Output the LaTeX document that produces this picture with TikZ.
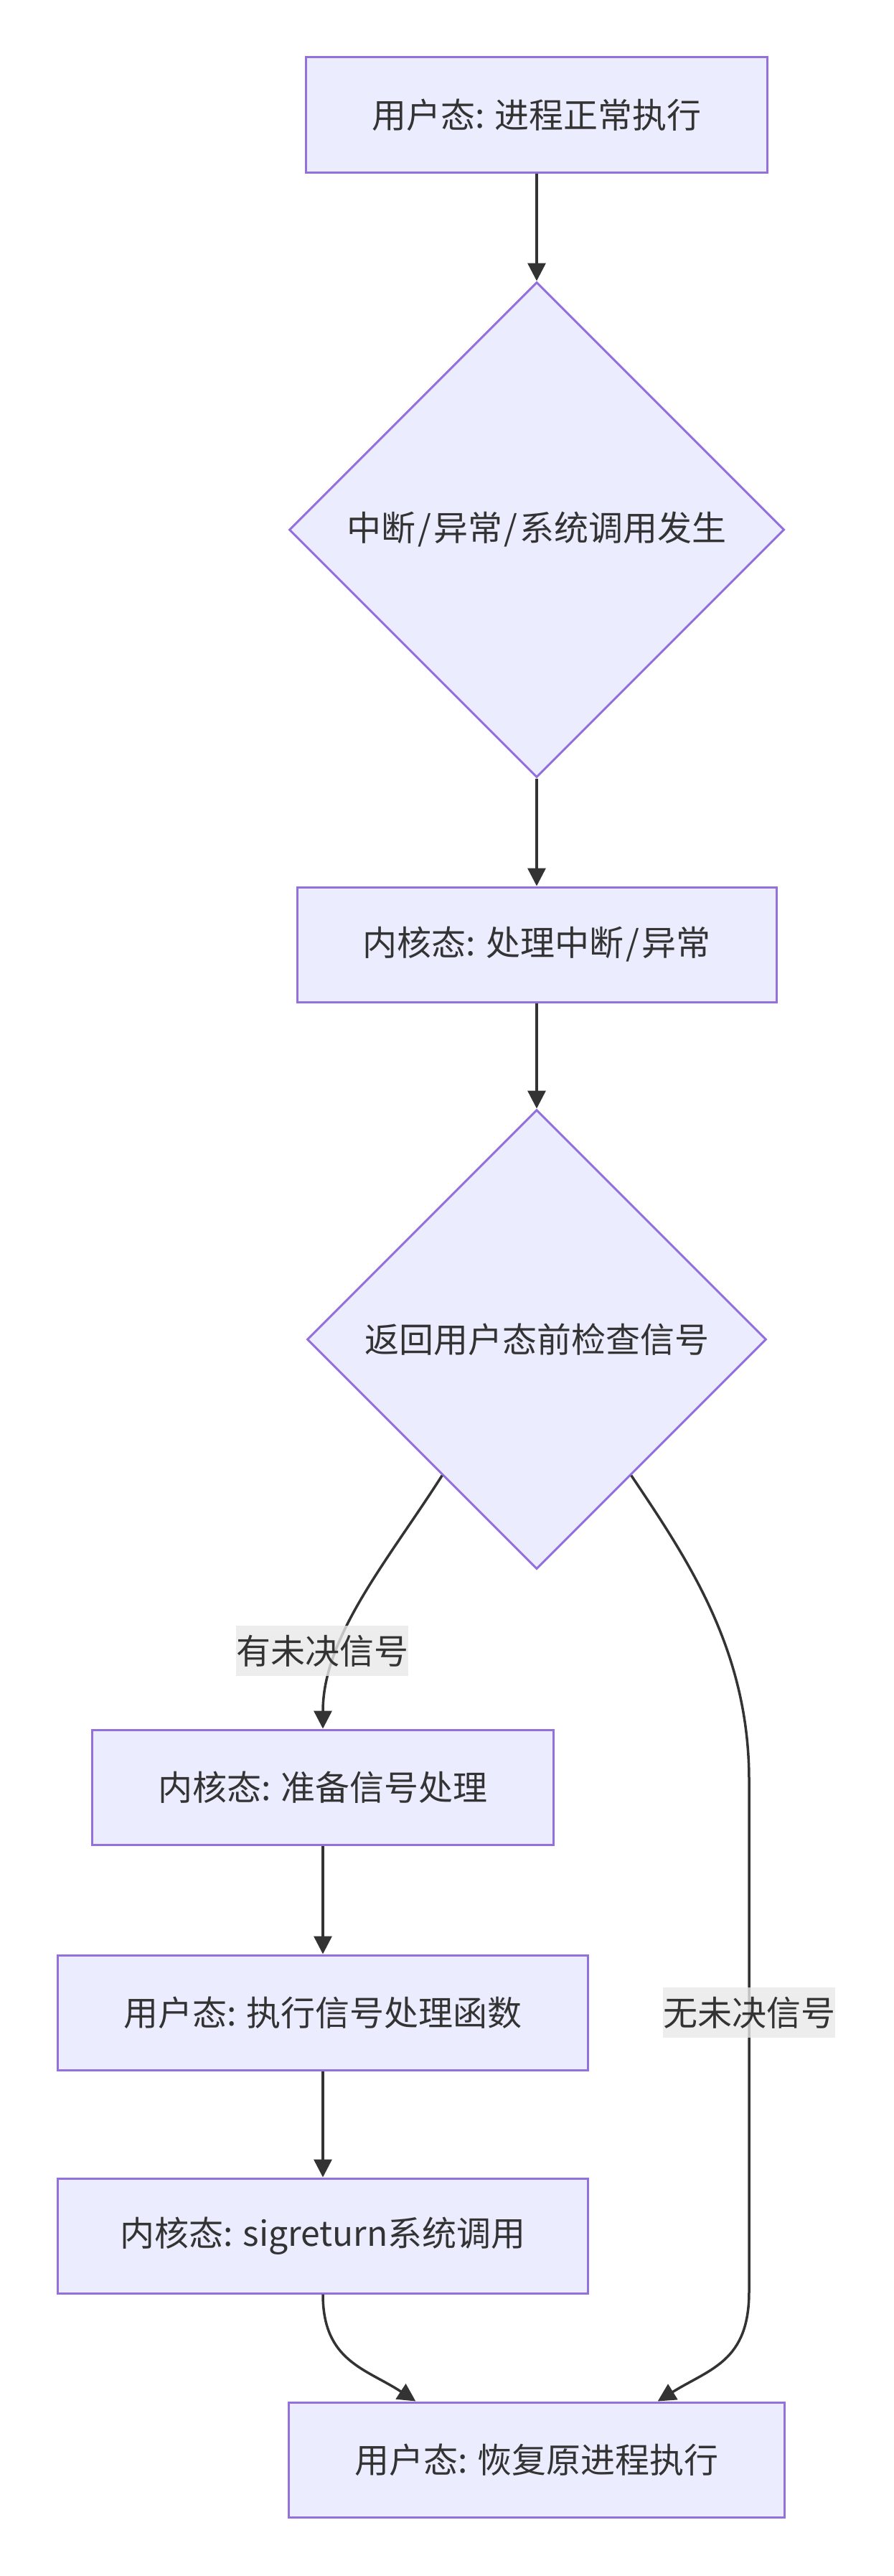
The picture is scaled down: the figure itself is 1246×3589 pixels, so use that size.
\documentclass[tikz,border=0pt]{standalone}
\usepackage{fontspec}
\setmainfont{Noto Sans CJK SC}
\usetikzlibrary{shapes.geometric,arrows.meta,calc}
\definecolor{bg}{HTML}{ECECFF}
\definecolor{bd}{HTML}{9370DB}
\definecolor{tx}{HTML}{333333}
\definecolor{lb}{HTML}{E8E8E8}
\newcommand{\slsh}{\kern3pt/\kern3pt}
\begin{document}
\begin{tikzpicture}[x=1pt,y=-1pt,
  procbox/.style={draw=bd,fill=bg,line width=3pt,inner sep=0pt,minimum height=160pt,text=tx,font=\fontsize{48}{57}\selectfont},
  decbox/.style={diamond,aspect=1,draw=bd,fill=bg,line width=3pt,inner sep=0pt,text=tx,font=\fontsize{48}{57}\selectfont},
  edge/.style={draw=tx,line width=3.5pt,-{Triangle[length=25pt,width=25pt]}},
  elabel/.style={fill=lb,fill opacity=0.8,text opacity=1,text=tx,inner sep=0pt,minimum width=238pt,minimum height=70pt,font=\fontsize{48}{57}\selectfont}]
\useasboundingbox (0,0) rectangle (1246,3589);
\node[procbox,minimum width=643pt] (A) at (748,160) {用户态: 进程正常执行};
\node[decbox,minimum width=690pt,minimum height=690pt] (B) at (748,738) {中断\slsh 异常\slsh 系统调用发生};
\node[procbox,minimum width=668pt] (C) at (748,1316) {内核态: 处理中断\slsh 异常};
\node[decbox,minimum width=640pt,minimum height=640pt] (D) at (748,1866) {返回用户态前检查信号};
\node[procbox,minimum width=643pt] (E) at (450,2490) {内核态: 准备信号处理};
\node[procbox,minimum width=739pt] (F) at (450,2804) {用户态: 执行信号处理函数};
\node[procbox,minimum width=739pt] (G) at (450,3115) {内核态: sigreturn系统调用};
\node[procbox,minimum width=691pt] (H) at (748,3427) {用户态: 恢复原进程执行};
\coordinate (s1) at ($(D.west)!0.59!(D.south)$);
\coordinate (s2) at ($(D.east)!0.59!(D.south)$);
\coordinate (e1) at ($(H.north west)!0.257!(H.north east)$);
\coordinate (e2) at ($(H.north west)!0.743!(H.north east)$);
\draw[edge] (A) -- (B);
\draw[edge] (B) -- (C);
\draw[edge] (C) -- (D);
\draw[edge] (s1) .. controls (540,2175) and (450,2280) .. (E.north);
\draw[edge] (E) -- (F);
\draw[edge] (F) -- (G);
\draw[edge] (s2) .. controls (960,2175) and (1044,2300) .. (1044,2480) -- (1044,3193) .. controls (1044,3290) and (990,3300) .. (e2);
\draw[edge] (G.south) .. controls (450,3290) and (510,3300) .. (e1);
\node[elabel] (L1) at (449,2300) {有未决信号};
\node[elabel] (L2) at (1044,2804) {无未决信号};
\end{tikzpicture}
\end{document}
